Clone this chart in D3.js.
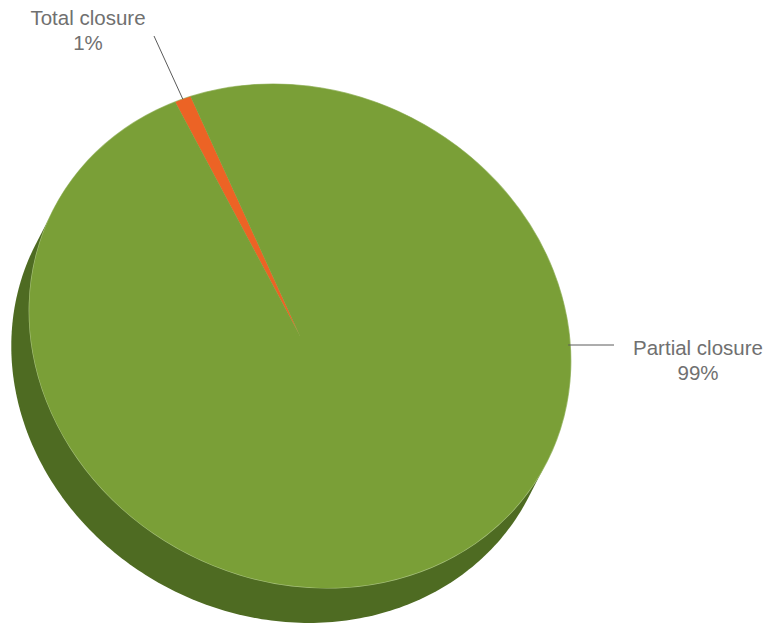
<!DOCTYPE html>
<html>
<head>
<meta charset="utf-8">
<script src="https://cdn.jsdelivr.net/npm/d3@7"></script>
<style>
  html, body { margin: 0; padding: 0; background: #ffffff; }
  svg { display: block; }
  text { font-family: Arial, "Liberation Sans", sans-serif; }
</style>
</head>
<body>
<svg id="chart" width="768" height="624"></svg>
<script>
// Closure types and their shares
const categories = ["Total closure", "Partial closure"];
const values = [1, 99];
const percentLabels = ["1%", "99%"];
const colors = ["#ec6325", "#7a9f37"];
const sideColor = "#4e6b22";

const svg = d3.select("#chart");

// Tilted disc: the pie is drawn on a circle of radius R, then squashed and rotated
const R = 100;
const cx = 300, cy = 336;
const sx = 2.77, sy = 2.45, tilt = 27;      // ellipse semi-axes (x R) and tilt in degrees
const depthX = -18, depthY = 35;            // extrusion offset of the side wall

const tr = tilt * Math.PI / 180;
function project(angle, r, ox = 0, oy = 0) {
  const ux = r * Math.sin(angle) * sx;
  const uy = -r * Math.cos(angle) * sy;
  return [
    cx + ox + ux * Math.cos(tr) - uy * Math.sin(tr),
    cy + oy + ux * Math.sin(tr) + uy * Math.cos(tr)
  ];
}

// Side wall: hull of the top ellipse and its offset copy
const rimPts = [];
d3.range(0, 360, 1).forEach(d => {
  const a = d * Math.PI / 180;
  rimPts.push(project(a, R));
  rimPts.push(project(a, R, depthX, depthY));
});
const hull = d3.polygonHull(rimPts);
svg.append("path")
  .attr("d", "M" + hull.map(p => p.join(",")).join("L") + "Z")
  .attr("fill", sideColor);

// Slices
const startAngle = -51.7 * Math.PI / 180;
const pie = d3.pie().sort(null).startAngle(startAngle).endAngle(startAngle + 2 * Math.PI);
const arcs = pie(values);
const arc = d3.arc().innerRadius(0).outerRadius(R);

const topFace = svg.append("g")
  .attr("transform", `translate(${cx},${cy}) rotate(${tilt}) scale(${sx},${sy})`);

// faint highlight where the top face meets the side
topFace.append("ellipse")
  .attr("rx", R + 0.25).attr("ry", R + 0.25)
  .attr("fill", "#a6c07a");

topFace.selectAll("path.slice")
  .data(arcs)
  .join("path")
  .attr("class", "slice")
  .attr("d", arc)
  .attr("fill", (d, i) => colors[i]);

// Labels
const labelColor = "#707070";
const lineColor = "#5a5a5a";
const fontSize = 20.5;

// Total closure: leader from the slice's rim midpoint
const midTotal = (arcs[0].startAngle + arcs[0].endAngle) / 2;
const rimTotal = project(midTotal, R);
svg.append("line")
  .attr("x1", rimTotal[0]).attr("y1", rimTotal[1])
  .attr("x2", 154).attr("y2", 36)
  .attr("stroke", lineColor).attr("stroke-width", 1);

const tTotal = svg.append("text")
  .attr("text-anchor", "middle")
  .attr("fill", labelColor)
  .attr("font-size", fontSize);
tTotal.append("tspan").attr("x", 88).attr("y", 25).text(categories[0]);
tTotal.append("tspan").attr("x", 88).attr("y", 50).text(percentLabels[0]);

// Partial closure: horizontal leader from the right rim
const leaderY = 345;
let best = null;
d3.range(0, 360, 0.1).forEach(d => {
  const p = project(d * Math.PI / 180, R);
  if (p[0] > cx && (best === null || Math.abs(p[1] - leaderY) < Math.abs(best[1] - leaderY))) best = p;
});
svg.append("line")
  .attr("x1", best[0] - 2).attr("y1", leaderY)
  .attr("x2", 614).attr("y2", leaderY)
  .attr("stroke", lineColor).attr("stroke-width", 1);

const tPartial = svg.append("text")
  .attr("text-anchor", "middle")
  .attr("fill", labelColor)
  .attr("font-size", fontSize);
tPartial.append("tspan").attr("x", 698).attr("y", 355).text(categories[1]);
tPartial.append("tspan").attr("x", 698).attr("y", 380).text(percentLabels[1]);
</script>
</body>
</html>
